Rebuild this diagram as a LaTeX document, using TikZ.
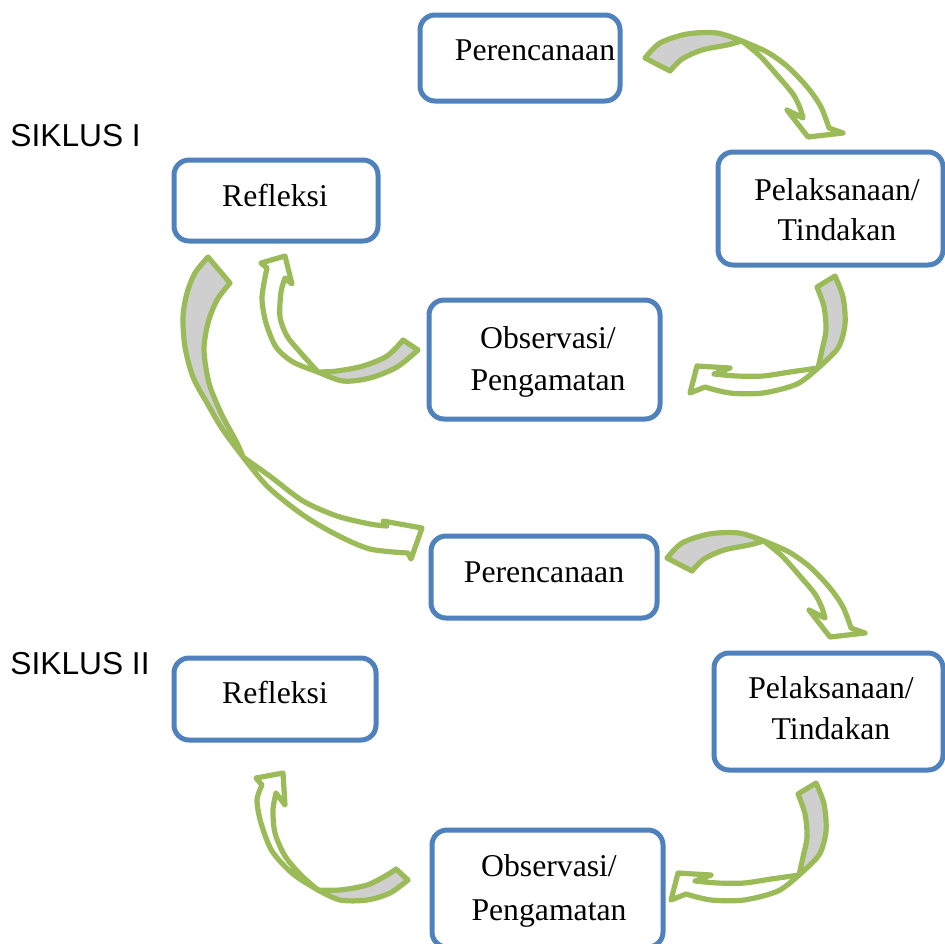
\documentclass[tikz,border=0pt]{standalone}
\usepackage{fontspec}
\setmainfont{Liberation Serif}
\newfontfamily\sikfont{Liberation Sans}
\definecolor{boxblue}{HTML}{4F81BD}
\definecolor{arrgreen}{HTML}{9BBB59}
\definecolor{backgray}{HTML}{CFCFCF}
\newcommand{\lbfont}{\fontsize{15.85}{19}\selectfont}
\newcommand{\arrowDown}{%
  \path[backface] plot[smooth] coordinates {(645,58) (660,43) (687,34) (717,33) (742,41)}
    -- plot[smooth] coordinates {(742,41) (727,45) (702,50) (682,59) (670,71)} -- cycle;
  \path[frontface] plot[smooth] coordinates {(742,41) (767,52) (788,67) (808,88) (821,107) (829,128)}
    -- (843,133) -- (808,137) -- (787,110) -- (803,118)
    -- plot[smooth] coordinates {(803,118) (800,108) (793,94) (777,75) (760,56) (742,41)} -- cycle;}
\newcommand{\arrowLeft}{%
  \path[backface] plot[smooth] coordinates {(835,276) (843,297) (845,324) (838,348) (818,368)}
    -- plot[smooth] coordinates {(818,368) (822,350) (826,330) (824,307) (817,287)} -- cycle;
  \path[frontface] plot[smooth] coordinates {(818,368) (797,384) (763,393) (730,393) (705,387)}
    -- (690,393) -- (697,366) -- (730,368) -- (714,374)
    -- plot[smooth] coordinates {(714,374) (737,376) (763,376) (790,372) (818,368)} -- cycle;}
\tikzset{
  box/.style={draw=boxblue, line width=2.5pt, rounded corners=7.5pt, inner sep=0pt},
  lbl/.style={font=\lbfont, anchor=base, inner sep=0pt},
  siklus/.style={font=\sikfont\fontsize{15.85}{19}\selectfont, anchor=base west, inner sep=0pt},
  backface/.style={fill=backgray, draw=arrgreen, line width=2.6pt, line join=round},
  frontface/.style={fill=white, draw=arrgreen, line width=2.6pt, line join=round},
}
\begin{document}
\begin{tikzpicture}[x=0.5pt, y=-0.5pt]
\clip (0,0) rectangle (945,943);
\fill[white] (0,0) rectangle (945,943);
% boxes
\node[box, minimum width=100pt, minimum height=43pt] (peren1) at (520,58) {};
\node[box, minimum width=112.5pt, minimum height=56.5pt] (pelak1) at (830.5,208.5) {};
\node[box, minimum width=102pt, minimum height=40.5pt] (refl1) at (276,200.5) {};
\node[box, minimum width=115.5pt, minimum height=59.5pt] (obs1) at (544.5,359.5) {};
\node[box, minimum width=113pt, minimum height=41pt] (peren2) at (544,577) {};
\node[box, minimum width=114.5pt, minimum height=58.5pt] (pelak2) at (828.5,711.5) {};
\node[box, minimum width=101pt, minimum height=41pt] (refl2) at (275,699) {};
\node[box, minimum width=115.5pt, minimum height=58.5pt] (obs2) at (547.5,888.5) {};
% texts
\node[lbl] (t1) at (535,60) {Perencanaan};
\node[lbl] (t2a) at (837,200) {Pelaksanaan/};
\node[lbl] (t2b) at (837,240) {Tindakan};
\node[lbl] (t3) at (275,206) {Refleksi};
\node[lbl] (t4a) at (548,348) {Observasi/};
\node[lbl] (t4b) at (548,390) {Pengamatan};
\node[lbl] (t5) at (544,582) {Perencanaan};
\node[lbl] (t6a) at (831,698) {Pelaksanaan/};
\node[lbl] (t6b) at (831,739) {Tindakan};
\node[lbl] (t7) at (275,703) {Refleksi};
\node[lbl] (t8a) at (549,876) {Observasi/};
\node[lbl] (t8b) at (549,920) {Pengamatan};
\node[siklus] (s1) at (10,146) {SIKLUS I};
\node[siklus] (s2) at (10,674) {SIKLUS II};
% arrows cycle I
\arrowDown
\arrowLeft
% Observasi -> Refleksi (I)
\path[backface] plot[smooth] coordinates {(418,350) (397,367) (370,378) (343,381) (318,372)}
  -- plot[smooth] coordinates {(318,372) (337,371) (363,366) (387,356) (403,340)} -- cycle;
\path[frontface] plot[smooth] coordinates {(318,372) (293,362) (276,347) (266,323) (262,300) (264,283) (267,268)}
  -- (261,263) -- (285,256) -- (292,284) -- (285,278)
  -- plot[smooth] coordinates {(285,278) (281,292) (280,317) (287,336) (300,352) (318,372)} -- cycle;
% Refleksi I -> Perencanaan II (long)
\path[backface] plot[smooth] coordinates {(208,257) (195,273) (187,293) (183,317) (185,347) (193,377) (207,403) (223,430) (243,457)}
  -- plot[smooth] coordinates {(243,457) (237,443) (221,413) (209,383) (204,350) (208,323) (217,300) (230,283)} -- cycle;
\path[frontface] plot[smooth] coordinates {(243,457) (268,487) (303,515) (337,535) (370,549) (408,553)}
  -- (411,559) -- (422,528) -- (383,521) -- (387,526)
  -- plot[smooth] coordinates {(387,526) (370,524) (337,516) (303,501) (271,477) (243,457)} -- cycle;
% cycle II
\begin{scope}[shift={(22,500)}]
\arrowDown
\end{scope}
\begin{scope}[shift={(-19,507)}]
\arrowLeft
\end{scope}
% Observasi -> Refleksi (II)
\path[backface] plot[smooth] coordinates {(408,880) (390,893) (367,900) (340,900) (318,890)}
  -- plot[smooth] coordinates {(318,890) (340,890) (367,885) (387,875) (396,869)} -- cycle;
\path[frontface] plot[smooth] coordinates {(318,890) (293,874) (272,851) (261,823) (257,800) (262,785)}
  -- (256,778) -- (283,773) -- (285,805) -- (276,793)
  -- plot[smooth] coordinates {(276,793) (273,810) (275,833) (285,856) (301,875) (318,890)} -- cycle;
\end{tikzpicture}
\end{document}
